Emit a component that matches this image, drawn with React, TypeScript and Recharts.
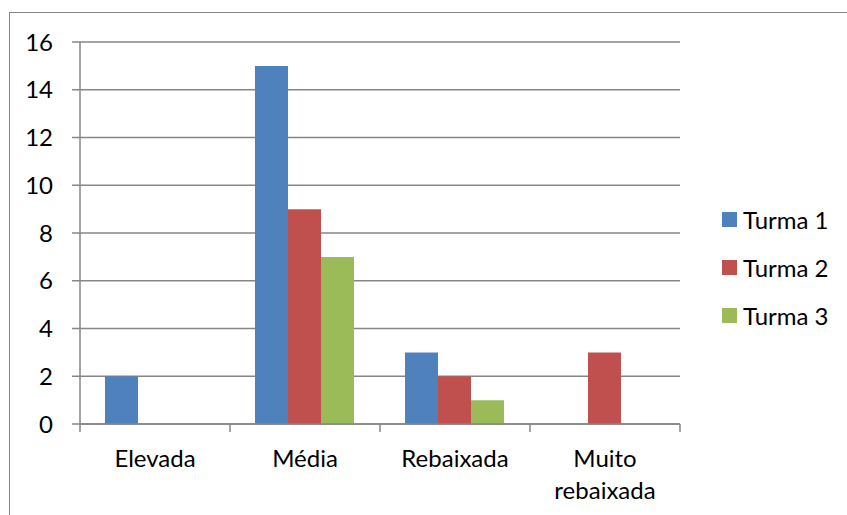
import { Bar, BarChart, CartesianGrid, Legend, XAxis, YAxis } from "recharts";

const CATEGORIES = ["Elevada", "Média", "Rebaixada", "Muito rebaixada"];
const TURMA_1 = [2, 15, 3, 0];
const TURMA_2 = [0, 9, 2, 3];
const TURMA_3 = [0, 7, 1, 0];
const Y_TICKS = [0, 2, 4, 6, 8, 10, 12, 14, 16];

const SERIES = [
  { key: "t1", name: "Turma 1", color: "#4F81BD" },
  { key: "t2", name: "Turma 2", color: "#C0504D" },
  { key: "t3", name: "Turma 3", color: "#9BBB59" },
];

const data = CATEGORIES.map((categoria, i) => ({
  categoria,
  t1: TURMA_1[i],
  t2: TURMA_2[i],
  t3: TURMA_3[i],
}));

const W = 847;
const H = 515;
const Y_AXIS_W = 80;
const X_AXIS_H = 91;
const RIGHT_SPACE = 167;
const LEGEND_W = 125;
// the legend's own width is added to the right offset, so take it back out here
const MARGIN = { top: 42, right: RIGHT_SPACE - LEGEND_W, bottom: 0, left: 0 };
const PLOT_W = W - RIGHT_SPACE - Y_AXIS_W;
const BAND = PLOT_W / CATEGORIES.length;
const FONT = "Lato, 'Open Sans', sans-serif";
const FONT_SIZE = 24;
const AXIS = "#868686";

// category label, wrapped on spaces, plus the boundary tick marks between groups
function CategoryTick({ x, y, payload, index }: any) {
  const words = String(payload.value).split(" ");
  const left = x - BAND / 2;
  const right = x + BAND / 2;
  return (
    <g>
      <line x1={left} x2={left} y1={y} y2={y + 8} stroke={AXIS} strokeWidth={1.5} />
      {index === CATEGORIES.length - 1 && (
        <line x1={right} x2={right} y1={y} y2={y + 8} stroke={AXIS} strokeWidth={1.5} />
      )}
      <text
        x={x}
        y={y + 43}
        textAnchor="middle"
        fontSize={FONT_SIZE}
        fontFamily={FONT}
        fill="#000"
      >
        {words.map((w, i) => (
          <tspan key={i} x={x} dy={i === 0 ? 0 : 32}>
            {w}
          </tspan>
        ))}
      </text>
    </g>
  );
}

function TurmaLegend() {
  return (
    <div style={{ fontFamily: FONT, fontSize: FONT_SIZE, color: "#000" }}>
      {SERIES.map((s) => (
        <div key={s.key} style={{ display: "flex", alignItems: "center", height: 48 }}>
          <span
            style={{ display: "inline-block", width: 15, height: 15, background: s.color, marginRight: 6 }}
          />
          {s.name}
        </div>
      ))}
    </div>
  );
}

export default function App() {
  return (
    <div style={{ position: "relative", width: W, height: H, background: "#fff", overflow: "hidden" }}>
      <style>{"body{margin:0}"}</style>
      <div
        style={{
          position: "absolute",
          left: 9,
          top: 12,
          width: W,
          height: H,
          borderTop: `1.5px solid ${AXIS}`,
          borderLeft: `1.5px solid ${AXIS}`,
        }}
      />
      <BarChart
        width={W}
        height={H}
        data={data}
        margin={MARGIN}
        barCategoryGap={25}
        barGap={0}
        style={{ position: "absolute", left: 0, top: 0 }}
      >
        <CartesianGrid vertical={false} stroke={AXIS} strokeWidth={1.5} />
        <XAxis
          dataKey="categoria"
          height={X_AXIS_H}
          axisLine={{ stroke: AXIS, strokeWidth: 1.5 }}
          tickLine={false}
          tickSize={0}
          tickMargin={0}
          interval={0}
          tick={<CategoryTick />}
        />
        <YAxis
          width={Y_AXIS_W}
          domain={[0, 16]}
          ticks={Y_TICKS}
          interval={0}
          axisLine={{ stroke: AXIS, strokeWidth: 1.5 }}
          tickLine={{ stroke: AXIS, strokeWidth: 1.5 }}
          tickSize={8}
          tickMargin={19}
          tick={{ fontSize: FONT_SIZE, fontFamily: FONT, fill: "#000" }}
        />
        <Legend
          layout="horizontal"
          verticalAlign="middle"
          align="right"
          content={<TurmaLegend />}
          wrapperStyle={{ left: 722, top: 195.5, right: "auto", width: LEGEND_W }}
        />
        {SERIES.map((s) => (
          <Bar key={s.key} dataKey={s.key} name={s.name} fill={s.color} isAnimationActive={false} />
        ))}
      </BarChart>
    </div>
  );
}
